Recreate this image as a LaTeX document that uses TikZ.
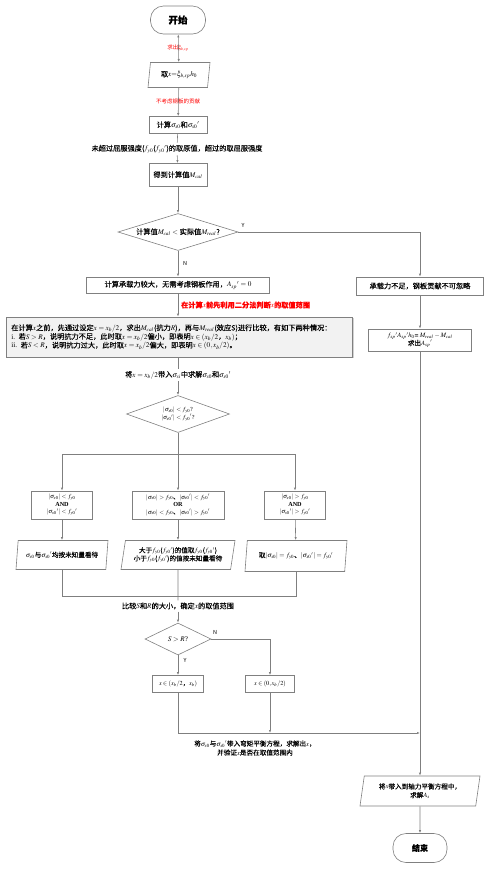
\documentclass[tikz,border=0pt]{standalone}
\usepackage{mathptmx}
\usepackage[no-math]{fontspec}
\setmainfont{Noto Sans CJK SC}[FakeBold=0.15]
\newfontfamily\plainf{Noto Sans CJK SC}
\newfontfamily\tms{Liberation Serif}
\usetikzlibrary{shapes.geometric,arrows.meta,shadows,calc}
\definecolor{linec}{HTML}{7F7F7F}
\definecolor{boxc}{HTML}{808080}
\definecolor{fillg}{HTML}{F2F2F2}
\definecolor{redt}{HTML}{FF0000}
\begin{document}
\begin{tikzpicture}[x=1pt,y=-1pt,
 every node/.style={font=\fontsize{7.2}{8.7}\selectfont, inner sep=1pt, align=center},
 box/.style={draw=boxc, line width=0.6pt, rectangle},
 term/.style={draw=boxc, line width=0.6pt, rectangle, rounded corners=13pt},
 para/.style={draw=boxc, line width=0.6pt, trapezium, trapezium left angle=76, trapezium right angle=104, trapezium stretches body, inner xsep=0pt},
 dia/.style={draw=boxc, line width=0.6pt, diamond, inner sep=0pt},
 arr/.style={draw=linec, line width=0.6pt, -{Latex[length=3pt,width=2.2pt]}},
 ln/.style={draw=linec, line width=0.6pt},
 cond/.style={box, font=\fontsize{6.2}{7.5}\selectfont},
 redl/.style={text=redt, font=\fontsize{5.5}{6.5}\selectfont\plainf},
 yn/.style={font=\fontsize{5.5}{6.5}\selectfont\plainf}
]
\useasboundingbox (0,0) rectangle (498,871);

% main column
\node[term, minimum width=55, minimum height=28, font=\fontsize{9.5}{11}\selectfont\bfseries] (start) at (178,20) {开始};
\node[para, minimum width=62, minimum height=25] (p1) at (179,75) {取$x{=}\xi_{b,sp}h_0$};
\node[box, minimum width=58, minimum height=17] (b1) at (178,125) {计算$\sigma_{s0}$和${\sigma_{s0}}'$};
\node[inner sep=2pt] (t1) at (177,149) {未超过屈服强度($f_{y0}$(${f_{y0}}'$)的取原值，超过的取屈服强度};
\node[box, minimum width=58, minimum height=23] (b2) at (178,175) {得到计算值$M_{cal}$};
\node[dia, aspect=3.2, minimum width=120, minimum height=37] (d1) at (178,232) {计算值$M_{cal}$ $<$ 实际值$M_{real}$?};
\node[box, minimum width=183, minimum height=16] (b3) at (178,285) {计算承载力较大，无需考虑钢板作用，${A_{sp}}'=0$};
\node[anchor=west, text=redt, font=\fontsize{7.2}{8.7}\selectfont\bfseries] (t2) at (180,305) {在计算$x$前先利用二分法判断$x$的取值范围};
\node[box, fill=fillg, align=left, anchor=west, minimum width=346, minimum height=40, inner xsep=5pt, text width=336, drop shadow={shadow xshift=1.2pt,shadow yshift=-1.2pt,fill=black!35}] (gb) at (6,337) {在计算$x$之前，先通过设定$x=x_b/2$，求出$M_{cal}$(抗力$R$)，再与$M_{real}$(效应S)进行比较，有如下两种情况：\\
{\tms i.} 若$S>R$，说明抗力不足，此时取$x=x_b/2$偏小，即表明$x\in(x_b/2$，$x_b)$；\\
{\tms ii.} 若$S<R$，说明抗力过大，此时取$x=x_b/2$偏大，即表明$x\in(0,x_b/2)$。};
\node[inner sep=2pt] (t3) at (178,375) {将$x=x_b/2$带入$\sigma_{si}$中求解$\sigma_{s0}$和${\sigma_{s0}}'$};
\node[dia, aspect=2.8, minimum width=103, minimum height=37, font=\fontsize{6.2}{8}\selectfont] (d2) at (178,414) {{\tms $|\sigma_{s0}|<f_{y0}$?}\\{\tms $|{\sigma_{s0}}'|<{f_{y0}}'$?}};

% three branches
\node[cond, minimum width=61, minimum height=28] (c1) at (62,505) {$|\sigma_{s0}|<f_{y0}$\\{\tms\bfseries AND}\\$|{\sigma_{s0}}'|<{f_{y0}}'$};
\node[cond, minimum width=92, minimum height=28] (c2) at (178,505) {$|\sigma_{s0}|>f_{y0}$、$|{\sigma_{s0}}'|<{f_{y0}}'$\\{\tms\bfseries OR}\\$|\sigma_{s0}|<f_{y0}$、$|{\sigma_{s0}}'|>{f_{y0}}'$};
\node[cond, minimum width=61, minimum height=28] (c3) at (295,505) {$|\sigma_{s0}|>f_{y0}$\\{\tms\bfseries AND}\\$|{\sigma_{s0}}'|>{f_{y0}}'$};
\node[para, minimum width=92, minimum height=29, font=\fontsize{6.6}{8}\selectfont] (q1) at (62,555) {$\sigma_{s0}$与${\sigma_{s0}}'$均按未知量看待};
\node[para, minimum width=114, minimum height=29, font=\fontsize{6.6}{8.2}\selectfont] (q2) at (178,555) {大于$f_{y0}$(${f_{y0}}'$)的值取$f_{y0}$(${f_{y0}}'$)\\小于$f_{y0}$(${f_{y0}}'$)的值按未知量看待};
\node[para, minimum width=102, minimum height=31, font=\fontsize{6.6}{8}\selectfont] (q3) at (296,556) {取$|\sigma_{s0}|=f_{y0}$、$|{\sigma_{s0}}'|={f_{y0}}'$};

\node[inner sep=2pt] (t4) at (178,606) {比较$S$和$R$的大小，确定$x$的取值范围};
\node[dia, aspect=2, minimum width=66, minimum height=32] (d3) at (178,639) {{\tms $S>R$?}};
\node[cond, minimum width=51, minimum height=17] (x1) at (178,684) {$x\in(x_b/2$，$x_b)$};
\node[cond, minimum width=49, minimum height=17] (x2) at (270,684) {$x\in(0,x_b/2)$};
\node[inner sep=2pt, font=\fontsize{6.6}{9}\selectfont] (t5) at (255,748) {将$\sigma_{s0}$与${\sigma_{s0}}'$带入弯矩平衡方程，求解出$x$，\\并验证$x$是否在取值范围内};

% right column
\node[box, minimum width=127, minimum height=18] (r1) at (420,286) {承载力不足，钢板贡献不可忽略};
\node[box, minimum width=103, minimum height=22, font=\fontsize{6.6}{7.8}\selectfont] (r2) at (420,340) {${f_{sp}}'{A_{sp}}'h_0$= $M_{real}-M_{cal}$\\求出${A_{sp}}'$};
\node[para, minimum width=120, minimum height=30, font=\fontsize{6.6}{8.6}\selectfont] (q4) at (420,791) {将$x$带入到轴力平衡方程中，\\求解$A_s$};
\node[term, minimum width=54, minimum height=29, font=\fontsize{8}{9}\selectfont\bfseries] (end) at (420,848) {结束};

\coordinate (split) at (178,454);
\coordinate (merge) at (178,596);
\coordinate (join) at (178,733);

% connectors
\draw[ln, {Latex[length=3pt,width=2.2pt]}-{Latex[length=3pt,width=2.2pt]}] (start) -- (p1);
\node[redl] (l1) at (178,48) {求出$\xi_{b,sp}$};
\draw[arr] (p1) -- (b1);
\node[redl] (l2) at (178,101) {不考虑钢板的贡献};
\draw[ln] (b1) -- (t1);
\draw[arr] (t1) -- (b2);
\draw[arr] (b2) -- (d1);
\draw[arr] (d1) -- (b3);
\node[yn] (n1) at (185,263) {N};
\draw[arr] (d1.east) -| (r1.north);
\node[yn] (y1) at (243,225) {Y};
\draw[arr] (b3) -- (b3.south |- gb.north);
\draw[ln] (b3.south |- gb.south) -- (t3);
\draw[arr] (t3) -- (d2);
\draw[ln] (d2.south) -- (split);
\draw[ln] (c1.north |- split) -- (c3.north |- split);
\draw[arr] (c1.north |- split) -- (c1.north);
\draw[arr] (split) -- (c2.north);
\draw[arr] (c3.north |- split) -- (c3.north);
\draw[arr] (c1) -- (q1);
\draw[arr] (c2) -- (q2);
\draw[arr] (c3) -- (q3);
\draw[ln] (q1.south) -- (q1.south |- merge) -- (q3.south |- merge) -- (q3.south);
\draw[ln] (q2.south) -- (t4);
\draw[arr] (t4) -- (d3);
\draw[arr] (d3) -- (x1);
\node[yn] (y2) at (185,660) {Y};
\draw[arr] (d3.east) -| (x2.north);
\node[yn] (n2) at (215,632) {N};
\draw[arr] (x1.south) -- (join) -- (r2.south |- join);
\draw[arr] (x2.south) -- (x2.south |- join);
\draw[arr] (r1) -- (r2);
\draw[arr] (r2) -- (q4);
\draw[arr] (q4) -- (end);
\end{tikzpicture}
\end{document}
